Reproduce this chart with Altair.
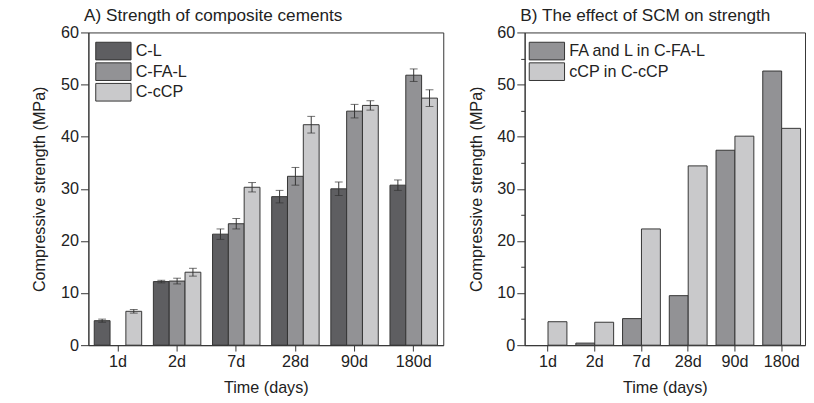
import altair as alt
import pandas as pd

days = ["1d", "2d", "7d", "28d", "90d", "180d"]
series_a = ["C-L", "C-FA-L", "C-cCP"]
cl = [4.7, 12.2, 21.3, 28.5, 30.0, 30.7]
cl_err = [0.3, 0.25, 1.0, 1.2, 1.3, 1.0]
cfal = [None, 12.3, 23.3, 32.4, 44.9, 51.8]
cfal_err = [None, 0.55, 1.0, 1.7, 1.3, 1.2]
ccp = [6.5, 14.0, 30.3, 42.3, 46.0, 47.4]
ccp_err = [0.35, 0.75, 0.9, 1.6, 0.9, 1.6]

series_b = ["FA and L in C-FA-L", "cCP in C-cCP"]
fa_eff = [None, 0.4, 5.1, 9.5, 37.4, 52.6]
ccp_eff = [4.5, 4.4, 22.3, 34.4, 40.1, 41.6]

y_ticks = [0, 5, 10, 15, 20, 25, 30, 35, 40, 45, 50, 55, 60]

colors_a = ["#5e5e61", "#929295", "#c9c9cb"]
colors_b = ["#929295", "#c9c9cb"]

rows_a = []
for s, vals, errs in zip(series_a, [cl, cfal, ccp], [cl_err, cfal_err, ccp_err]):
    for d, v, e in zip(days, vals, errs):
        if v is not None:
            rows_a.append({"day": d, "series": s, "value": v, "lo": v - e, "hi": v + e})
df_a = pd.DataFrame(rows_a)

rows_b = []
for s, vals in zip(series_b, [fa_eff, ccp_eff]):
    for d, v in zip(days, vals):
        if v is not None:
            rows_b.append({"day": d, "series": s, "value": v})
df_b = pd.DataFrame(rows_b)

FONT = "Liberation Sans"
INK = "#333333"
TXT = "#222222"
PATH = "M-2,-1H2V1H-2Z"
H = 319
FS = 16.5
XT = "Time (days)"
YT = "Compressive strength (MPa)"

yscale = alt.Scale(domain=[0, 60], nice=False, zero=True)
xscale = alt.Scale(domain=days, paddingInner=0, paddingOuter=0)

x_major = alt.X("day:N", sort=days, scale=xscale,
                axis=alt.Axis(title=XT, labelAngle=0, tickSize=6, labelPadding=3,
                              titlePadding=10, titleFontSize=FS, titleFontWeight="normal",
                              labelFontSize=FS))
x_plain = alt.X("day:N", sort=days, scale=xscale, title=XT)

y_major = alt.Y("value:Q", scale=yscale,
                axis=alt.Axis(title=YT, values=y_ticks,
                              labelExpr="datum.value % 10 === 0 ? datum.label : ''",
                              tickSize={"condition": {"test": "datum.value % 10 !== 0", "value": 4},
                                        "value": 8},
                              labelPadding=2, titlePadding=13, titleFontSize=FS,
                              titleFontWeight="normal", labelFontSize=FS, grid=False))


def legend(lx, ly):
    return alt.Legend(title=None, orient="none", legendX=lx, legendY=ly, symbolType=PATH,
                      symbolSize=324, symbolStrokeColor=INK, symbolStrokeWidth=1,
                      symbolOpacity=1, labelFontSize=FS, labelOffset=13.2, rowPadding=-5,
                      padding=0, labelColor=TXT)


def title(text):
    return alt.TitleParams(text, anchor="start", dx=53, fontSize=17.5, fontWeight="normal",
                           color=TXT, offset=0)


# ---------- Panel A ----------
xoff_a = alt.XOffset("series:N", sort=series_a,
                     scale=alt.Scale(domain=series_a, paddingInner=0, paddingOuter=0.37))
bars_a = alt.Chart(df_a).mark_bar(stroke=INK, strokeWidth=1).encode(
    x=x_major,
    xOffset=xoff_a,
    y=y_major,
    color=alt.Color("series:N", sort=series_a,
                    scale=alt.Scale(domain=series_a, range=colors_a),
                    legend=legend(16, 9.5)),
)
err_a = alt.Chart(df_a).mark_rule(color=INK, strokeWidth=1).encode(
    x=x_plain, xOffset=xoff_a, y=alt.Y("lo:Q", scale=yscale, title=YT), y2="hi:Q")
cap_lo = alt.Chart(df_a).mark_tick(color=INK, thickness=1, size=8).encode(
    x=x_plain, xOffset=xoff_a, y=alt.Y("lo:Q", scale=yscale, title=YT))
cap_hi = alt.Chart(df_a).mark_tick(color=INK, thickness=1, size=8).encode(
    x=x_plain, xOffset=xoff_a, y=alt.Y("hi:Q", scale=yscale, title=YT))

panel_a = alt.layer(bars_a, err_a, cap_lo, cap_hi).properties(
    width=362, height=H, title=title("A) Strength of composite cements"))

# ---------- Panel B ----------
xoff_b = alt.XOffset("series:N", sort=series_b,
                     scale=alt.Scale(domain=series_b, paddingInner=0, paddingOuter=0.236))
panel_b = alt.Chart(df_b).mark_bar(stroke=INK, strokeWidth=1).encode(
    x=x_major,
    xOffset=xoff_b,
    y=y_major,
    color=alt.Color("series:N", sort=series_b,
                    scale=alt.Scale(domain=series_b, range=colors_b),
                    legend=legend(13.2, 9.5)),
).properties(width=286, height=H, title=title("B) The effect of SCM on strength"))

chart = alt.hconcat(panel_a, panel_b, spacing=24).resolve_scale(
    color="independent", xOffset="independent").properties(
    padding={"left": 24, "top": -5, "right": 0, "bottom": 0},
).configure(font=FONT).configure_view(
    stroke=INK, strokeWidth=1).configure_axis(
    domainColor=INK, tickColor=INK, labelColor=TXT, titleColor=TXT,
    domainWidth=1, tickWidth=1,
)

chart.save("out.html", embed_options={"renderer": "svg", "actions": False})
